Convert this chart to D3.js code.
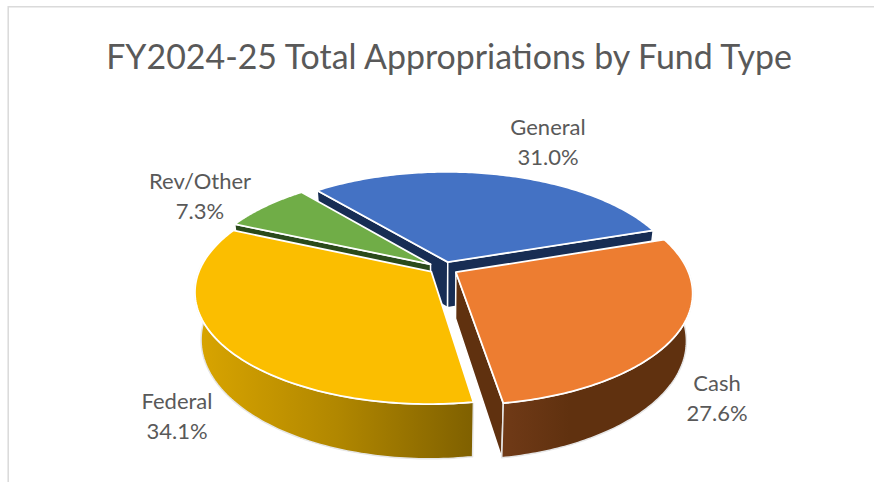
<!DOCTYPE html>
<html>
<head>
<meta charset="utf-8">
<script src="https://cdn.jsdelivr.net/npm/d3@7"></script>
<style>
  html, body { margin: 0; padding: 0; background: #fff; }
  svg { display: block; }
  text { font-family: Lato, "Open Sans", sans-serif; fill: #595959; }
</style>
</head>
<body>
<svg id="chart" width="874" height="482"></svg>
<script>
// Appropriation shares by fund type, clockwise from the back of the pie
const funds = ["General", "Cash", "Federal", "Rev/Other"];
const shares = [31.0, 27.6, 34.1, 7.3];
const chartTitle = "FY2024-25 Total Appropriations by Fund Type";

// How far each slice is pulled out of the pie, as a fraction of the radius
const explode = [0.057, 0.075, 0.053, 0.057];
// Extra sideways pull on the General slice, same units
const sideways = [0.014, 0, 0, 0];

const topColors = ["#4472C4", "#ED7D31", "#FBBE00", "#70AD47"];
const wallColors = ["#172D54", "#60310F", "#7F6000", "#2A4A1B"];
const labelSpots = [[548, 135], [717, 391], [177, 409], [200, 189]];

// Ground-plane to screen projection: the far edge of the disc shrinks
const cx = 441, cy = 268, R = 231, squash = 108, persp = 0.175, depth = 46;
function project(gx, gy) {
  const w = 1 + persp * gy / R;
  return [cx + gx / w, cy - (gy / R) * squash / w];
}

const pieLayout = d3.pie().sort(null).value(d => d)
  .startAngle(-40 * Math.PI / 180).endAngle(320 * Math.PI / 180);
const arcs = pieLayout(shares);

const svg = d3.select("#chart");
const defs = svg.append("defs");

// Chart frame: only the top and left edges fall inside the window
svg.append("path").attr("d", "M8.2,482V6.7H874").attr("fill", "none")
  .attr("stroke", "#DADADA").attr("stroke-width", 1.5);

// Side-wall shading of the two slices whose rim faces the viewer
function wallGradient(id, x1, x2, stops) {
  const g = defs.append("linearGradient").attr("id", id)
    .attr("gradientUnits", "userSpaceOnUse")
    .attr("x1", x1).attr("x2", x2).attr("y1", 0).attr("y2", 0);
  stops.forEach(s => g.append("stop").attr("offset", s[0]).attr("stop-color", s[1]));
}
wallGradient("wall1", 503, 570, [[0, "#703A17"], [1, "#60310F"]]);
wallGradient("wall2", 200, 474, [[0, "#D8A400"], [0.5, "#B18700"], [1, "#7F6000"]]);
const wallFills = ["#172D54", "url(#wall1)", "url(#wall2)", "#2A4A1B"];

const line = d3.line().curve(d3.curveLinear);

function sliceGeometry(a, i) {
  const mid = (a.startAngle + a.endAngle) / 2;
  const ox = (Math.sin(mid) * explode[i] + sideways[i]) * R;
  const oy = Math.cos(mid) * explode[i] * R;
  const apex = project(ox, oy);
  const steps = d3.range(0, 121).map(k => a.startAngle + (a.endAngle - a.startAngle) * k / 120);
  const rimAt = t => project(ox + R * Math.sin(t), oy + R * Math.cos(t));
  // Only the part of the rim turned towards the viewer gets an outer wall
  const frontSteps = steps.filter(t => Math.cos(t) < 0.12);
  return { apex, rim: steps.map(rimAt), frontRim: frontSteps.map(rimAt) };
}

// Wall height grows towards the viewer; the underside of the disc is slightly narrower
const drop = p => [
  cx + (p[0] - cx) * 0.975,
  p[1] + depth * (1 - 0.15 * (cy - p[1]) / squash)
];

// Painter's order: back slices first, the front slices overlap them
[0, 3, 2, 1].forEach(i => {
  const { apex, rim, frontRim } = sliceGeometry(arcs[i], i);
  const first = rim[0], last = rim[rim.length - 1];
  const g = svg.append("g");

  // A cut face is drawn only when it turns towards the viewer
  const faces = [];
  if (Math.sin(arcs[i].startAngle) < 0) faces.push(first);
  if (Math.sin(arcs[i].endAngle) > 0) faces.push(last);
  faces.forEach(end => {
    g.append("path").attr("d", line([apex, end, drop(end), drop(apex)]) + "Z")
      .attr("fill", wallColors[i]).attr("stroke", "#fff")
      .attr("stroke-width", 1.5).attr("stroke-linejoin", "round");
  });

  if (frontRim.length > 1) {
    g.append("path").attr("d", line(frontRim.concat(frontRim.map(drop).reverse())) + "Z")
      .attr("fill", wallFills[i]).attr("stroke", "#E6E6E6")
      .attr("stroke-width", 1.5).attr("stroke-linejoin", "round");
  }

  g.append("path").attr("d", line([apex].concat(rim)) + "Z")
    .attr("fill", topColors[i]).attr("stroke", "#fff")
    .attr("stroke-width", 1.8).attr("stroke-linejoin", "round");
});

// Title and two-line data labels
svg.append("text").attr("x", 449).attr("y", 69).attr("text-anchor", "middle")
  .attr("font-size", 33.9).text(chartTitle);

funds.forEach((name, i) => {
  const t = svg.append("text").attr("text-anchor", "middle").attr("font-size", 22);
  t.append("tspan").attr("x", labelSpots[i][0]).attr("y", labelSpots[i][1]).text(name);
  t.append("tspan").attr("x", labelSpots[i][0]).attr("y", labelSpots[i][1] + 29.5)
    .text(d3.format(".1f")(shares[i]) + "%");
});
</script>
</body>
</html>
